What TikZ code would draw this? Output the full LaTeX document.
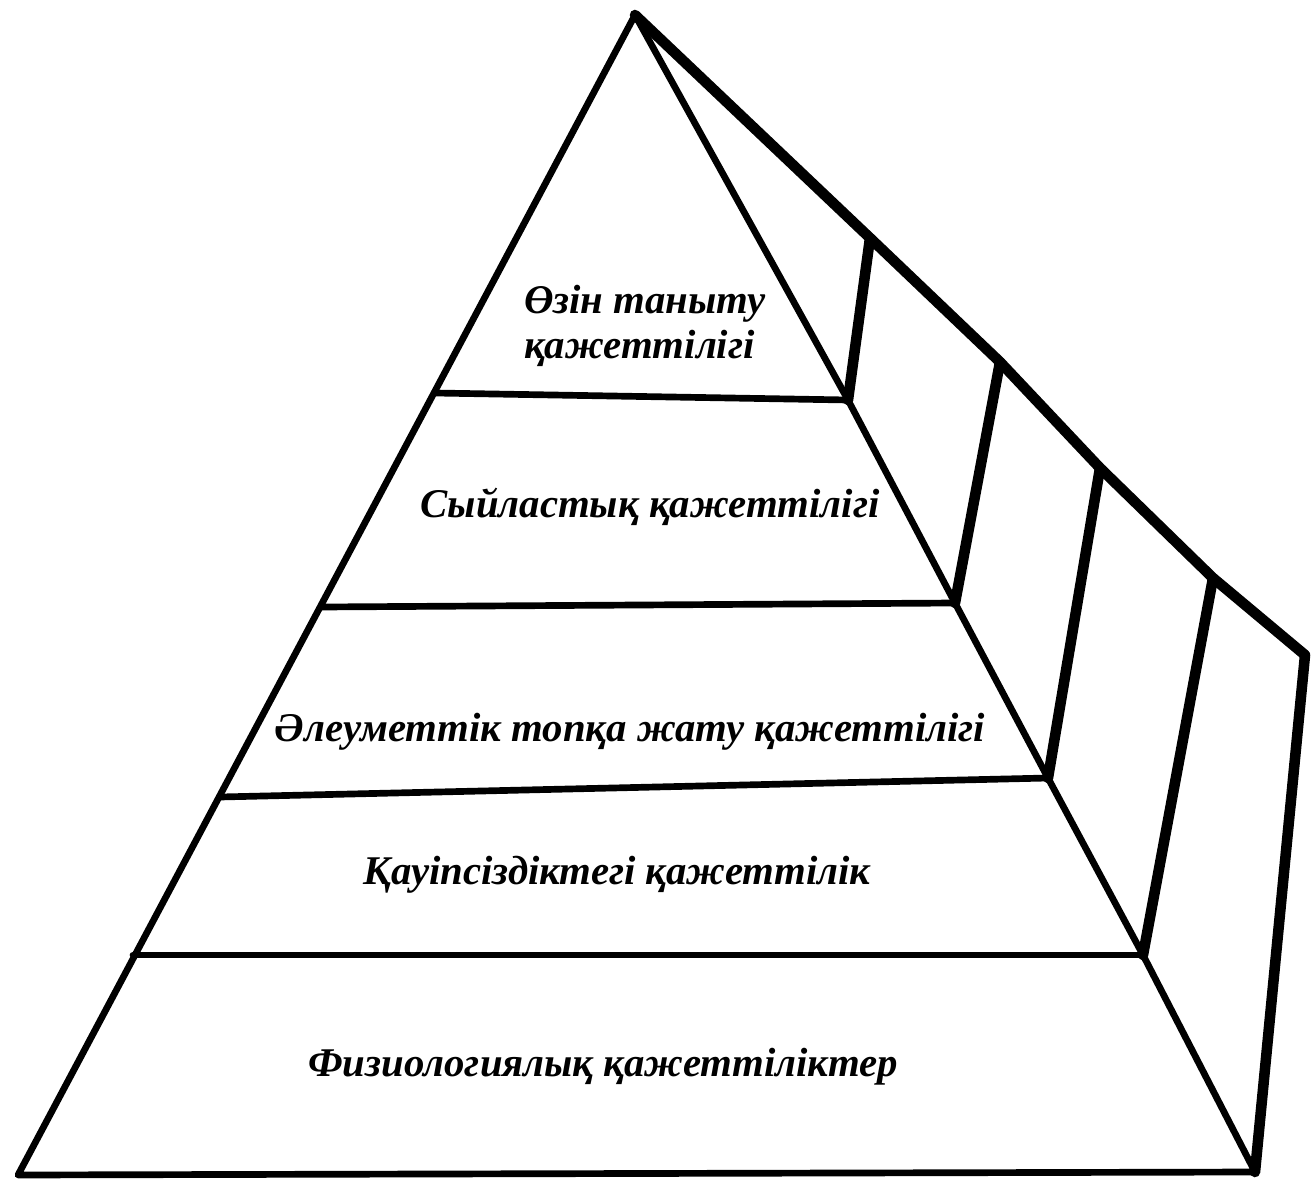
\documentclass[tikz,border=0pt]{standalone}
\usepackage{fontspec}
\setmainfont{Liberation Serif}
\begin{document}
\begin{tikzpicture}[x=0.01cm, y=-0.01cm,
  face/.style={line width=1.9pt, line join=round, line cap=round},
  backedge/.style={line width=3pt, line join=round, line cap=round},
  lbl/.style={rectangle, draw=none, font=\fontsize{11.6}{13}\selectfont\bfseries\itshape, inner sep=0pt}]
\useasboundingbox (0,0) rectangle (1315,1194);
%%%%%%%%%%%%%%%%%%%%%%%%%%%%%%% front face
\coordinate (apex) at (635,15);
\coordinate (lBase) at (18,1175);
\coordinate (rBase) at (1255,1172);
\coordinate (l1) at (435,393);
\coordinate (r1) at (848,400);
\coordinate (l2) at (322,607);
\coordinate (r2) at (955,603);
\coordinate (l3) at (220,797);
\coordinate (r3) at (1048,778);
\coordinate (l4) at (133,955);
\coordinate (r4) at (1143,955);
\draw[face] (lBase) -- (apex) -- (r1) -- (r2) -- (r3) -- (r4) -- (rBase) -- cycle;
\draw[face] (l1) -- (r1);
\draw[face] (l2) -- (r2);
\draw[face] (l3) -- (r3);
\draw[face] (l4) -- (r4);
%%%%%%%%%%%%%%%%%%%%%%%%%%%%%%% side face
\coordinate (b1) at (870,238);
\coordinate (b2) at (1000,362);
\coordinate (b3) at (1100,468);
\coordinate (b4) at (1213,578);
\coordinate (bBase) at (1305,655);
\draw[backedge] (apex) -- (b1) -- (b2) -- (b3) -- (b4) -- (bBase) -- (rBase);
\draw[backedge] (r1) -- (b1);
\draw[backedge] (r2) -- (b2);
\draw[backedge] (r3) -- (b3);
\draw[backedge] (r4) -- (b4);
%%%%%%%%%%%%%%%%%%%%%%%%%%%%%%% levels
\node[lbl, align=left](lvSelf) at (645,326){Өзін таныту\\қажеттілігі};
\node[lbl](lvEsteem) at (650,507){Сыйластық қажеттілігі};
\node[lbl](lvSocial) at (630,732){Әлеуметтік топқа жату қажеттілігі};
\node[lbl](lvSafety) at (617,875){Қауіпсіздіктегі қажеттілік};
\node[lbl](lvPhys) at (603,1067){Физиологиялық қажеттіліктер};
\end{tikzpicture}
\end{document}
